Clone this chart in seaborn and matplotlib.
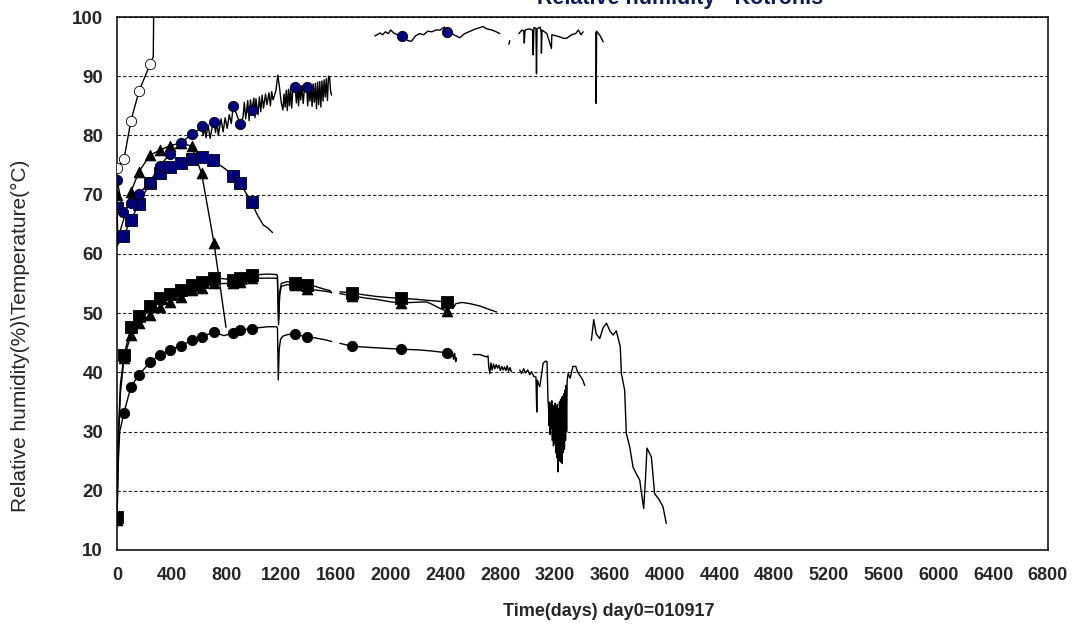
import matplotlib
matplotlib.use("Agg")
import matplotlib.pyplot as plt
import numpy as np
import pandas as pd
import seaborn as sns

nan = float("nan")

# relative humidity sensors (day, %)
rh_open_circle = [(0, 74.5), (51, 76.0), (102, 82.5), (161, 87.5), (241, 92.0), (265, 93.3), (268, 101.0)]
rh_open_circle_marks = [(0, 74.5), (51, 76.0), (102, 82.5), (161, 87.5), (241, 92.0)]

rh_blue_circle = [
    (0, 72.5), (46, 67.1), (102, 68.6), (161, 70.1), (241, 72.2), (314, 74.9), (387, 76.9),
    (467, 78.7), (545, 80.2), (600, 81.0), (618, 81.6), (630, 80.0), (640, 81.5), (650, 79.6),
    (665, 81.8), (680, 79.5), (700, 82.0), (708, 82.3), (720, 80.5), (730, 82.4), (740, 80.0),
    (760, 82.8), (775, 80.6), (790, 83.0), (805, 81.2), (820, 83.5), (835, 82.0), (849, 85.0),
    (870, 83.8), (898, 82.0), (920, 83.0), (930, 85.6), (940, 82.8), (955, 85.9), (965, 82.5),
    (975, 86.0), (983, 84.3), (1000, 86.3), (1008, 83.0), (1015, 86.2), (1030, 83.5),
    (1040, 86.5), (1050, 84.0), (1060, 86.8), (1070, 84.6), (1085, 87.0), (1095, 85.2),
    (1110, 87.2), (1120, 85.0), (1130, 87.4), (1140, 86.0), (1160, 87.5), (1175, 90.2),
    (1190, 87.5), (1200, 85.5), (1212, 84.3), (1220, 87.0), (1228, 84.8), (1236, 87.6),
    (1244, 84.2), (1252, 87.8), (1260, 85.0), (1268, 88.0), (1276, 84.6), (1285, 88.0),
    (1302, 88.1), (1310, 85.5), (1318, 88.3), (1326, 85.0), (1334, 88.2), (1342, 86.0),
    (1350, 88.4), (1360, 85.4), (1370, 88.2), (1385, 88.1), (1393, 85.0), (1401, 88.5),
    (1409, 85.8), (1417, 88.6), (1425, 84.9), (1433, 88.7), (1441, 85.6), (1449, 88.8),
    (1457, 84.5), (1465, 89.0), (1473, 85.2), (1481, 89.1), (1489, 84.8), (1497, 89.2),
    (1505, 85.8), (1513, 89.4), (1521, 86.5), (1529, 89.6), (1537, 85.9), (1545, 90.0),
    (1553, 89.8), (1560, 87.5), (1567, 86.8),
]
rh_top = [
    (1883, 96.8), (1900, 97.0), (1920, 97.3), (1940, 97.0), (1960, 97.5), (1980, 97.2), (2000, 97.8),
    (2020, 97.3), (2050, 97.0), (2078, 96.8), (2100, 96.5), (2125, 96.0), (2151, 95.9), (2180, 96.8),
    (2210, 97.2), (2240, 97.0), (2270, 97.6), (2300, 97.5), (2330, 97.8), (2360, 97.8), (2390, 98.3),
    (2407, 97.4), (2431, 97.5), (2460, 97.0), (2504, 96.5), (2540, 97.2), (2580, 97.6), (2620, 98.0),
    (2650, 98.2), (2672, 98.4), (2700, 98.0), (2740, 97.8), (2770, 97.5), (2796, 97.2), (nan, nan),
    (2862, 95.4), (2869, 96.0), (nan, nan),
    (2935, 97.2), (2942, 97.4), (2960, 97.8), (2971, 97.6), (2975, 95.6), (2980, 97.8), (3010, 98.0),
    (3035, 97.8), (3040, 93.6), (3045, 98.2), (3060, 98.1), (3064, 90.4), (3068, 98.0), (3090, 98.3),
    (3098, 97.5), (3100, 93.9), (3104, 97.8), (3140, 97.2), (3173, 94.7), (3176, 97.0), (3210, 96.8),
    (3240, 96.6), (3260, 96.4), (3283, 96.4), (3320, 97.0), (3350, 97.2), (3370, 97.8), (3390, 97.0),
    (3404, 97.5), (nan, nan),
    (3498, 97.4), (3500, 85.4), (3503, 97.6), (3530, 96.8), (3551, 95.8),
]
rh_blue_circle_marks = [
    (0, 72.5), (46, 67.1), (102, 68.6), (161, 70.1), (241, 72.2), (314, 74.9), (387, 76.9),
    (467, 78.7), (545, 80.2), (618, 81.6), (708, 82.3), (849, 85.0), (898, 82.0), (983, 84.3),
    (1302, 88.1), (1385, 88.1), (2078, 96.8), (2407, 97.4),
]

rh_blue_square = [
    (0, 67.7), (3, 61.5), (46, 63.0), (102, 65.7), (161, 68.5), (241, 72.0), (314, 73.6),
    (387, 74.7), (467, 75.3), (545, 76.0), (618, 76.4), (703, 75.8), (800, 74.2), (849, 73.1),
    (898, 71.9), (983, 68.8), (1020, 66.8), (1068, 64.9), (1100, 64.4), (1136, 63.6),
]
rh_blue_square_marks = [
    (0, 67.7), (46, 63.0), (102, 65.7), (161, 68.5), (241, 72.0), (314, 73.6), (387, 74.7),
    (467, 75.3), (545, 76.0), (618, 76.4), (703, 75.8), (849, 73.1), (898, 71.9), (983, 68.8),
]

rh_triangle = [
    (0, 70.0), (5, 62.5), (51, 66.0), (102, 70.5), (161, 73.9), (241, 76.7), (314, 77.5),
    (387, 78.3), (467, 78.7), (545, 78.2), (618, 73.6), (708, 61.9), (796, 47.6),
]
rh_triangle_marks = [
    (0, 70.0), (102, 70.5), (161, 73.9), (241, 76.7), (314, 77.5), (387, 78.3), (467, 78.7),
    (545, 78.2), (618, 73.6), (708, 61.9),
]

# temperature sensors (day, °C)
temp_square = [
    (0, 15.5), (10, 30.0), (25, 38.0), (51, 42.9), (102, 47.6), (161, 49.5), (241, 51.2),
    (314, 52.5), (387, 53.3), (467, 53.9), (545, 54.7), (618, 55.3), (708, 56.0), (849, 55.6),
    (898, 55.9), (983, 56.4), (1100, 56.6), (1166, 56.5), (1172, 56.3), (1180, 48.8), (1188, 53.5),
    (1200, 55.0), (1240, 55.3), (1302, 55.1), (1385, 54.8), (1450, 54.5), (1520, 54.0),
    (1555, 53.8), (1567, 53.4), (nan, nan),
    (1628, 53.6), (1718, 53.4), (1800, 53.1), (1900, 52.8), (2000, 52.6), (2073, 52.5),
    (2150, 52.4), (2250, 52.2), (2300, 52.1), (2407, 51.9), (2440, 51.8), (2460, 51.0),
    (2475, 51.6), (2520, 51.8), (2577, 51.6), (2650, 51.2), (2720, 50.6), (2772, 50.2),
]
temp_square_marks = [
    (0, 15.5), (51, 42.9), (102, 47.6), (161, 49.5), (241, 51.2), (314, 52.5), (387, 53.3),
    (467, 53.9), (545, 54.7), (618, 55.3), (708, 56.0), (849, 55.6), (898, 55.9), (983, 56.4),
    (1302, 55.1), (1385, 54.8), (1718, 53.4), (2073, 52.5), (2407, 51.9),
]

temp_triangle = [
    (0, 15.0), (10, 28.0), (25, 36.5), (51, 42.4), (102, 46.3), (161, 48.3), (241, 49.7),
    (314, 51.1), (387, 51.9), (467, 52.8), (545, 53.9), (618, 54.2), (708, 55.0), (849, 55.0),
    (898, 55.3), (983, 55.9), (1100, 55.9), (1166, 55.9), (1172, 55.7), (1180, 48.0), (1188, 53.0),
    (1200, 54.5), (1240, 54.8), (1302, 54.7), (1385, 54.0), (1450, 53.9), (1520, 53.7),
    (1567, 53.5), (nan, nan),
    (1628, 53.3), (1718, 52.9), (1800, 52.6), (1900, 52.3), (2000, 51.9), (2073, 51.7),
    (2150, 51.8), (2261, 51.9), (2300, 51.5), (2350, 50.9), (2407, 50.3),
]
temp_triangle_marks = [
    (0, 15.0), (51, 42.4), (102, 46.3), (161, 48.3), (241, 49.7), (314, 51.1), (387, 51.9),
    (467, 52.8), (545, 53.9), (618, 54.2), (708, 55.0), (849, 55.0), (898, 55.3), (983, 55.9),
    (1302, 54.7), (1385, 54.0), (1718, 52.9), (2073, 51.7), (2407, 50.3),
]

temp_circle = [
    (0, 15.0), (8, 24.0), (20, 30.0), (51, 33.2), (102, 37.6), (161, 39.6), (241, 41.7),
    (314, 42.9), (387, 43.8), (467, 44.5), (545, 45.4), (618, 46.0), (708, 46.8), (780, 46.2),
    (849, 46.6), (898, 47.1), (983, 47.4), (1100, 47.7), (1166, 47.7), (1172, 47.5), (1178, 38.7),
    (1185, 44.0), (1195, 45.6), (1210, 46.1), (1250, 46.4), (1302, 46.4), (1385, 46.0),
    (1450, 45.8), (1520, 45.5), (1567, 45.2), (nan, nan),
    (1628, 44.9), (1718, 44.4), (1850, 44.2), (2000, 44.0), (2073, 43.9), (2200, 43.8),
    (2300, 43.6), (2407, 43.3), (2420, 42.8), (2430, 43.6), (2440, 42.6), (2450, 43.4),
    (2458, 42.2), (2466, 43.2), (2474, 41.8), (2480, 42.4), (nan, nan),
    (2601, 43.0), (2650, 43.0), (2699, 42.6), (2710, 42.8), (2715, 41.0), (2723, 39.8),
    (2731, 41.6), (2740, 40.4), (2750, 41.4), (2760, 40.6), (2770, 41.3), (2780, 40.7),
    (2790, 41.2), (2800, 40.3), (2810, 41.0), (2820, 40.4), (2830, 40.9), (2840, 40.3),
    (2850, 41.1), (2860, 40.2), (2870, 40.8), (2881, 40.1), (nan, nan),
    (2942, 40.4), (2955, 39.8), (2970, 40.6), (2985, 39.9), (3000, 40.4), (3015, 39.6),
    (3027, 40.1), (3045, 39.3), (3060, 39.2), (3066, 33.3), (3070, 38.7), (3080, 38.0),
    (3088, 37.6), (3100, 39.5), (3112, 41.5), (3130, 41.9), (3141, 41.8), (3148, 35.3),
    (3152, 34.0), (3156, 31.0), (3160, 35.0), (3164, 29.5), (3168, 34.6), (3172, 30.5),
    (3176, 35.2), (3180, 28.5), (3184, 34.4), (3188, 27.6), (3192, 34.0), (3196, 28.0),
    (3200, 34.8), (3204, 26.4), (3208, 34.2), (3212, 25.6), (3216, 34.6), (3220, 23.2),
    (3224, 33.8), (3228, 25.0), (3232, 35.0), (3236, 26.0), (3240, 35.4), (3244, 24.8),
    (3248, 35.8), (3252, 24.6), (3256, 36.0), (3260, 26.5), (3264, 36.4), (3268, 27.0),
    (3272, 37.0), (3276, 28.5), (3280, 37.8), (3284, 30.0), (3288, 38.6), (3295, 39.8),
    (3310, 39.0), (3330, 41.0), (3351, 41.0), (3365, 40.0), (3380, 39.5), (3400, 38.8),
    (3416, 37.8), (nan, nan),
    (3465, 45.4), (3482, 48.9), (3500, 46.5), (3526, 45.7), (3550, 47.5), (3575, 48.3),
    (3600, 47.0), (3623, 46.3), (3647, 47.0), (3676, 44.3), (3684, 39.8), (3708, 37.0),
    (3720, 29.7), (3745, 27.4), (3769, 24.0), (3790, 23.0), (3818, 21.8), (3847, 17.0),
    (3860, 22.0), (3871, 27.2), (3903, 25.7), (3927, 19.5), (3960, 18.5), (3988, 17.3), (4012, 14.5),
]
temp_circle_marks = [
    (0, 15.0), (51, 33.2), (102, 37.6), (161, 39.6), (241, 41.7), (314, 42.9), (387, 43.8),
    (467, 44.5), (545, 45.4), (618, 46.0), (708, 46.8), (849, 46.6), (898, 47.1), (983, 47.4),
    (1302, 46.4), (1385, 46.0), (1718, 44.4), (2073, 43.9), (2407, 43.3),
]

x_ticks = list(range(0, 6801, 400))
y_ticks = list(range(10, 101, 10))

NAVY = "#00007f"


def to_frame(points, name):
    arr = np.array(points, dtype=float)
    seg = np.isnan(arr[:, 0]).cumsum()
    df = pd.DataFrame({"day": arr[:, 0], "value": arr[:, 1], "unit": [f"{name}-{s}" for s in seg]})
    return df.dropna()


sns.set_theme(style="white")
plt.rcParams["font.family"] = ["Liberation Sans", "DejaVu Sans"]

lines = pd.concat([
    to_frame(rh_open_circle, "rh_open"),
    to_frame(rh_blue_circle, "rh_blue_circle"),
    to_frame(rh_top, "rh_top"),
    to_frame(rh_blue_square, "rh_blue_square"),
    to_frame(rh_triangle, "rh_triangle"),
    to_frame(temp_square, "t_square"),
    to_frame(temp_triangle, "t_triangle"),
    to_frame(temp_circle, "t_circle"),
], ignore_index=True)

fig = plt.figure(figsize=(10.77, 6.30), dpi=100)
ax = fig.add_axes([117 / 1077, 1 - 550 / 630, 931 / 1077, 533 / 630])

ax.yaxis.grid(True, linestyle=(0, (3, 2)), color="#222222", linewidth=0.8)
ax.set_axisbelow(True)

sns.lineplot(data=lines, x="day", y="value", units="unit", estimator=None, sort=False,
             color="black", linewidth=1.0, legend=False, ax=ax)

marker_sets = [
    (rh_open_circle_marks, "o", "white", 55),
    (rh_triangle_marks, "^", "black", 60),
    (rh_blue_square_marks, "s", NAVY, 64),
    (rh_blue_circle_marks, "o", NAVY, 55),
    (temp_triangle_marks, "^", "black", 60),
    (temp_square_marks, "s", "black", 64),
    (temp_circle_marks, "o", "black", 55),
]
for pts, marker, face, size in marker_sets:
    arr = np.array(pts, dtype=float)
    sns.scatterplot(x=arr[:, 0], y=arr[:, 1], marker=marker, color=face, edgecolor="black",
                    linewidth=0.6, s=size, zorder=3, legend=False, ax=ax)

ax.set_xlim(0, 6800)
ax.set_ylim(10, 100)
ax.set_xticks(x_ticks)
ax.set_yticks(y_ticks)
ax.set_xlabel("")
ax.set_ylabel("")
ax.tick_params(axis="both", direction="out", length=5, width=1, color="black", pad=5)
ax.tick_params(axis="x", pad=7)
for lab in ax.get_xticklabels():
    lab.set_fontsize(13)
    lab.set_fontweight("bold")
for lab in ax.get_yticklabels():
    lab.set_fontsize(13.5)
    lab.set_fontweight("bold")
for sp in ax.spines.values():
    sp.set_visible(True)
    sp.set_color("black")
    sp.set_linewidth(1.1)

fig.text(609 / 1077, 1 - 612 / 630, "Time(days) day0=010917", ha="center", va="center",
         fontsize=13, fontweight="bold")
fig.text(20 / 1077, 1 - 336 / 630, "Relative humidity(%)\\Temperature(°C)", ha="center",
         va="center", rotation=90, fontsize=15)
fig.text(680 / 1077, 1 - 4 / 630, "Relative humidity - Kotronis", ha="center", va="baseline",
         fontsize=15.5, fontweight="bold", color="#0a1a5a")

fig.savefig("out.png", dpi=100)
